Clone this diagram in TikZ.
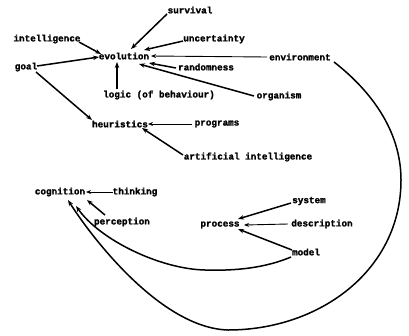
\documentclass[tikz,border=0pt]{standalone}
\usepackage{fontspec}
\newfontfamily\twfont{Liberation Mono}[FakeBold=1.6]
\usetikzlibrary{arrows.meta,calc}
\tikzset{
  lbl/.style={inner sep=1pt, font=\twfont\bfseries\fontsize{9.3}{10}\selectfont},
  conn/.style={line width=1.5pt, -{Stealth[length=6pt,width=4.5pt]}},
  typed/.style={line width=0.9pt, -{Stealth[length=5pt,width=4pt]}},
}
\begin{document}
\begin{tikzpicture}[x=1pt,y=-1pt]
\useasboundingbox (0,0) rectangle (409,335);
% nodes
\node[lbl] (survival) at (190,10) {survival};
\node[lbl] (intelligence) at (47,39) {intelligence};
\node[lbl] (uncertainty) at (214,39) {uncertainty};
\node[lbl] (evolution) at (124,56) {evolution};
\node[lbl] (environment) at (300,57) {environment};
\node[lbl] (goal) at (26,67) {goal};
\node[lbl] (randomness) at (206,67) {randomness};
\node[lbl] (logic) at (159,95) {logic (of behaviour)};
\node[lbl] (organism) at (279,96) {organism};
\node[lbl] (heuristics) at (120,124) {heuristics};
\node[lbl] (programs) at (217,124) {programs};
\node[lbl] (ai) at (248,157) {artificial intelligence};
\node[lbl] (cognition) at (60,192) {cognition};
\node[lbl] (thinking) at (135,192) {thinking};
\node[lbl] (perception) at (122,222) {perception};
\node[lbl] (system) at (309,201) {system};
\node[lbl] (process) at (220,225) {process};
\node[lbl] (description) at (322,224) {description};
\node[lbl] (model) at (306,252) {model};
% connectors to evolution
\draw[conn] ($(survival)+(-23,4)$) -- ($(evolution)+(7,-7)$);
\draw[conn] ($(intelligence)+(32,3)$) -- ($(evolution)+(-23,-2)$);
\draw[conn] ($(uncertainty)+(-31,2)$) -- ($(evolution)+(20,-6)$);
\draw[typed] ($(environment)+(-33,0)$) -- ($(evolution)+(27,0)$);
\draw[conn] ($(randomness)+(-30,1)$) -- ($(evolution)+(25,7)$);
\draw[conn] ($(organism)+(-25,0)$) -- ($(evolution)+(15,8)$);
\draw[conn] ($(logic)+(-42,-6)$) -- ($(evolution)+(-7,6)$);
\draw[conn] ($(goal)+(11,-1)$) -- ($(evolution)+(-25,1)$);
% heuristics
\draw[conn] ($(goal)+(10,5)$) -- ($(heuristics)+(-28,-4)$);
\draw[typed] ($(programs)+(-25,0)$) -- ($(heuristics)+(28,0)$);
\draw[conn] ($(ai)+(-65,-2)$) -- ($(heuristics)+(22,4)$);
% cognition
\draw[typed] ($(thinking)+(-22,0)$) -- ($(cognition)+(26,0)$);
\draw[conn] ($(perception)+(-17,-7)$) -- ($(cognition)+(27,8)$);
% process
\draw[conn] ($(system)+(-18,2)$) -- ($(process)+(18,-6)$);
\draw[typed] ($(description)+(-34,0)$) -- ($(process)+(24,0)$);
\draw[conn] ($(model)+(-14,-2)$) -- ($(process)+(18,4)$);
% long curves
\coordinate (mlow) at (205,270);
\draw[conn] ($(model)+(-15,5)$) .. controls (265,268) and (235,271) .. (mlow)
  .. controls (160,269) and (100,240) .. ($(cognition)+(16,14)$);
\coordinate (eright) at (401,180);
\coordinate (ebottom) at (228,330);
\draw[conn] ($(environment)+(34,5)$) .. controls (370,90) and (401,130) .. (eright)
  .. controls (401,270) and (320,330) .. (ebottom)
  .. controls (160,328) and (90,235) .. ($(cognition)+(8,8)$);
\end{tikzpicture}
\end{document}
